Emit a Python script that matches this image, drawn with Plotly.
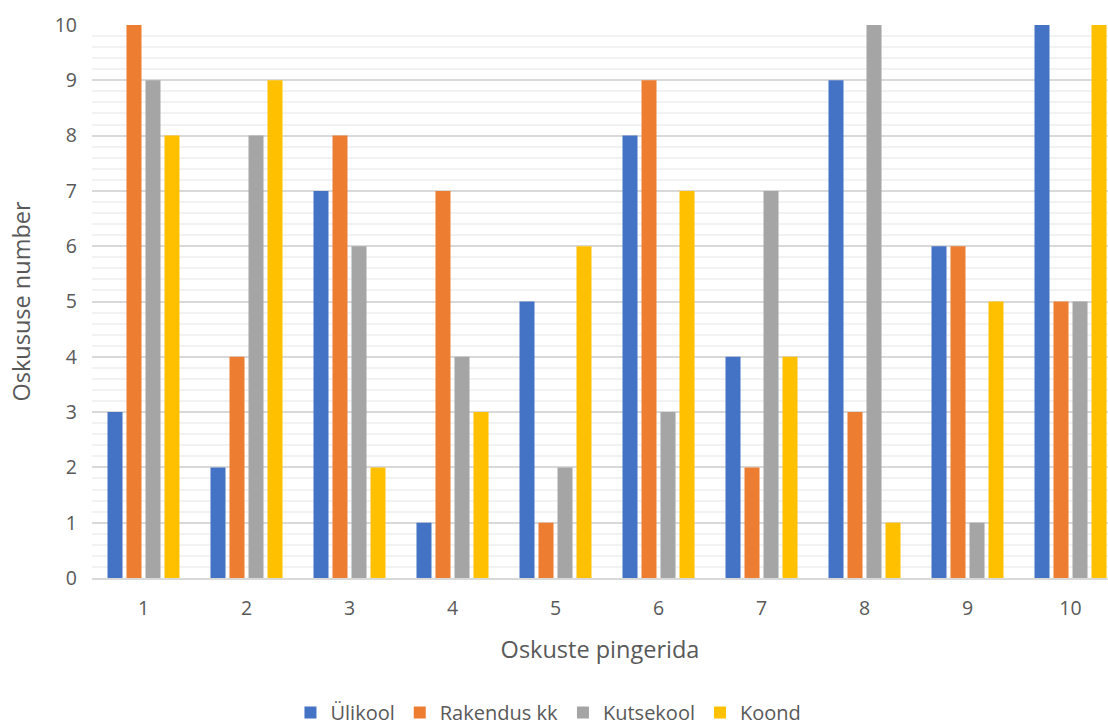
import plotly.graph_objects as go

categories = [1, 2, 3, 4, 5, 6, 7, 8, 9, 10]
ulikool = [3, 2, 7, 1, 5, 8, 4, 9, 6, 10]
rakendus = [10, 4, 8, 7, 1, 9, 2, 3, 6, 5]
kutsekool = [9, 8, 6, 4, 2, 3, 7, 10, 1, 5]
koond = [8, 9, 2, 3, 6, 7, 4, 1, 5, 10]

series = [
    ("Ülikool", ulikool, "#4472C4"),
    ("Rakendus kk", rakendus, "#ED7D31"),
    ("Kutsekool", kutsekool, "#A5A5A5"),
    ("Koond", koond, "#FFC000"),
]

FONT = "Open Sans"
TXT = "#595959"

fig = go.Figure()
for name, vals, col in series:
    fig.add_trace(go.Bar(x=categories, y=vals, name=name,
                         marker=dict(color=col, line=dict(width=0))))

fig.update_layout(
    width=1108, height=727,
    margin=dict(l=92, r=0, t=25, b=149, autoexpand=False),
    paper_bgcolor="white", plot_bgcolor="white",
    barmode="group", bargap=0.262, bargroupgap=0.21,
    font=dict(family=FONT, color=TXT, size=20),
    showlegend=True,
    legend=dict(orientation="h", xref="container", yref="container",
                x=0.495, xanchor="center", y=0.02, yanchor="middle",
                font=dict(size=20, color=TXT), itemwidth=30),
    xaxis=dict(range=[0.5, 10.364], tickmode="array", tickvals=categories,
               ticktext=[str(c) for c in categories], showgrid=False,
               showline=True, linecolor="#D9D9D9", linewidth=1.5,
               ticks="", tickfont=dict(size=19.5, color=TXT), automargin=False,
               ticklabelstandoff=12,
               title=dict(text="Oskuste pingerida", font=dict(size=23.5, color=TXT), standoff=21)),
    yaxis=dict(range=[0, 10], dtick=1, showgrid=True, gridcolor="#D9D9D9", gridwidth=1.5,
               zeroline=False, ticks="", tickfont=dict(size=19.5, color=TXT), automargin=False,
               ticklabelstandoff=14,
               minor=dict(dtick=0.2, showgrid=True, gridcolor="#F2F2F2", gridwidth=1.5),
               title=dict(text="Oskususe number", font=dict(size=23.5, color=TXT), standoff=17)),
)

fig.write_html(
    "out.html",
    config={"displayModeBar": False},
    post_script="document.body.style.margin='0';document.body.style.overflow='hidden';",
)
